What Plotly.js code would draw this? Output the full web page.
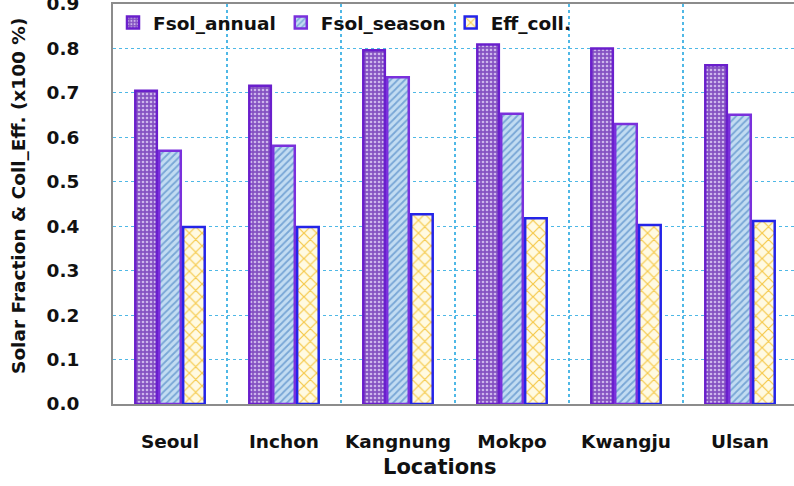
<!DOCTYPE html>
<html>
<head>
<meta charset="utf-8">
<script src="https://cdn.plot.ly/plotly-3.0.1.min.js"></script>
<style>
  html, body { margin: 0; padding: 0; overflow: hidden; background: #fff; }
  #chart { width: 797px; height: 486px; }
</style>
</head>
<body>
<div id="chart"></div>
<script>
// Solar fraction and collector efficiency by location
const locations = ["Seoul", "Inchon", "Kangnung", "Mokpo", "Kwangju", "Ulsan"];
const fsolAnnual = [0.705, 0.716, 0.796, 0.809, 0.800, 0.762];
const fsolSeason = [0.570, 0.581, 0.735, 0.653, 0.630, 0.651];
const effColl    = [0.398, 0.398, 0.427, 0.418, 0.403, 0.412];
const yTicks = [0.0, 0.1, 0.2, 0.3, 0.4, 0.5, 0.6, 0.7, 0.8, 0.9];

const FONT = "DejaVu Sans, Arial, sans-serif";
const TEXT = "#111111";

const traces = [
  {
    type: "bar", name: "Fsol_annual", x: locations, y: fsolAnnual,
    marker: {
      color: "#9a70c8",
      line: { color: "#6a1fcc", width: 2.5 },
      pattern: { shape: ".", bgcolor: "#8552c2", fgcolor: "#cdb6ec", size: 4, solidity: 0.35, fillmode: "replace" }
    }
  },
  {
    type: "bar", name: "Fsol_season", x: locations, y: fsolSeason,
    marker: {
      color: "#bcd8f0",
      line: { color: "#7a30dc", width: 2.5 },
      pattern: { shape: "/", bgcolor: "#c2dcf2", fgcolor: "#78a6d6", size: 5, solidity: 0.35, fillmode: "replace" }
    }
  },
  {
    type: "bar", name: "Eff_coll.", x: locations, y: effColl,
    marker: {
      color: "#fff4cc",
      line: { color: "#2424e8", width: 2.5 },
      pattern: { shape: "x", bgcolor: "#fffae2", fgcolor: "#f5c94a", size: 9, solidity: 0.25, fillmode: "replace" }
    }
  }
];

const layout = {
  width: 797, height: 486,
  margin: { l: 113, r: 0, t: 4, b: 82 },
  paper_bgcolor: "#ffffff", plot_bgcolor: "#ffffff",
  font: { family: FONT, size: 18, color: TEXT },
  barmode: "group", bargap: 0.37, bargroupgap: 0.1,
  showlegend: true,
  legend: {
    orientation: "h", x: 0.0, y: 1.0, xanchor: "left", yanchor: "top",
    bgcolor: "rgba(255,255,255,0)", borderwidth: 0,
    font: { family: FONT, size: 18.5, weight: "bold", color: TEXT },
    traceorder: "normal", itemwidth: 30
  },
  xaxis: {
    type: "category", range: [-0.5, 5.5], tickson: "boundaries",
    showgrid: true, gridcolor: "#4fb8e6", griddash: "dot", gridwidth: 1.2,
    showline: true, linecolor: "#8c8c8c", linewidth: 2, mirror: true,
    ticks: "", ticklabelstandoff: 20,
    tickfont: { family: FONT, size: 18.5, weight: "bold", color: TEXT },
    zeroline: false
  },
  yaxis: {
    range: [0, 0.9], tickmode: "array", tickvals: yTicks,
    ticktext: yTicks.map(v => v.toFixed(1)),
    showgrid: true, gridcolor: "#4fb8e6", griddash: "dot", gridwidth: 1,
    showline: true, linecolor: "#8c8c8c", linewidth: 2, mirror: true,
    ticks: "", ticklabelstandoff: 28, ticklabeloverflow: "allow",
    tickfont: { family: FONT, size: 18.5, weight: "bold", color: TEXT },
    zeroline: false
  },
  annotations: [
    {
      text: "Locations", xref: "paper", yref: "paper",
      x: 0.478, y: -0.157, xanchor: "center", yanchor: "middle", showarrow: false,
      font: { family: FONT, size: 21, weight: "bold", color: TEXT }
    },
    {
      text: "Solar Fraction & Coll_Eff. (x100 %)", xref: "paper", yref: "paper",
      x: -0.139, y: 0.52, xanchor: "center", yanchor: "middle", textangle: -90, showarrow: false,
      font: { family: FONT, size: 18.5, weight: "bold", color: TEXT }
    }
  ]
};

Plotly.newPlot("chart", traces, layout, { displayModeBar: false, staticPlot: true });
</script>
</body>
</html>
